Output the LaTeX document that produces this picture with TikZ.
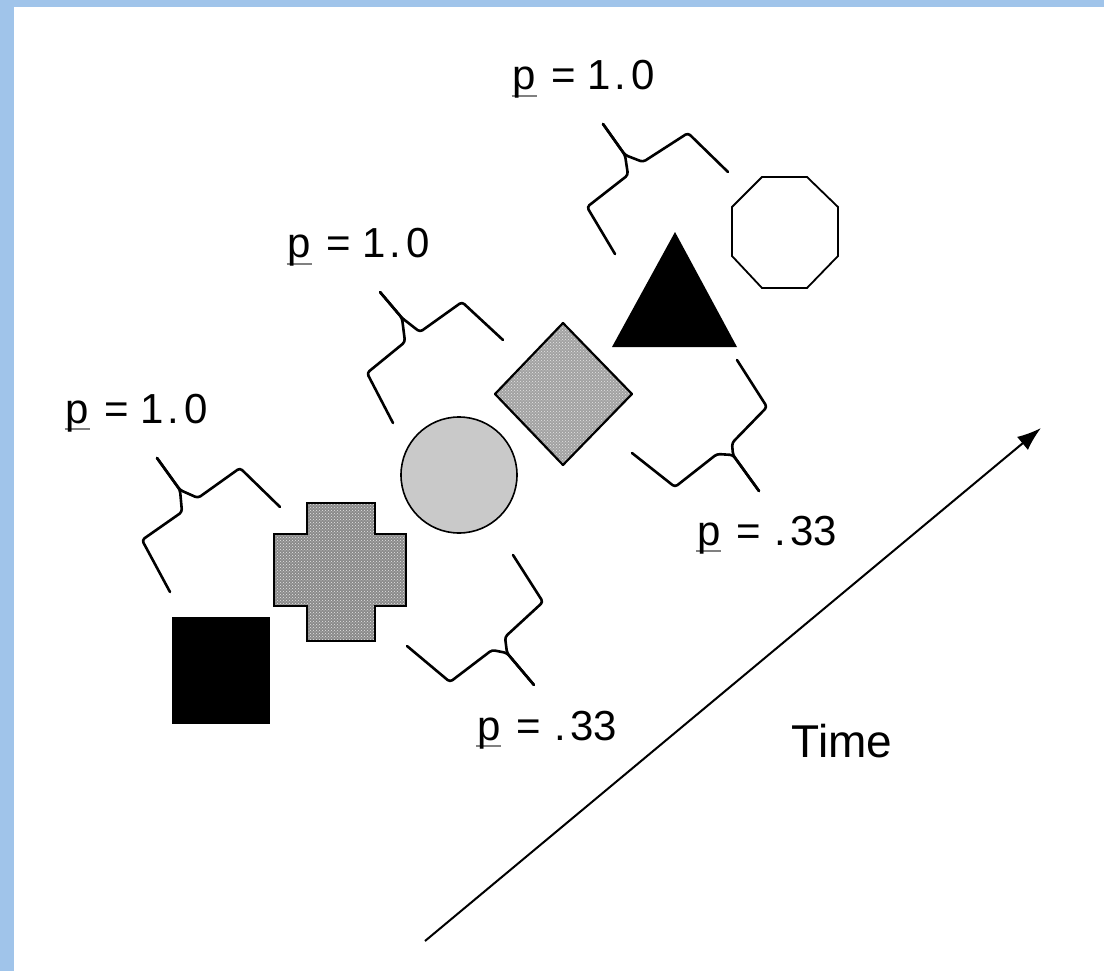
\documentclass[tikz,border=0pt]{standalone}
\usepackage{fontspec}
\setmainfont{Liberation Sans}
\usetikzlibrary{patterns,arrows.meta}
\definecolor{frameblue}{HTML}{A0C4EA}
\definecolor{crossgray}{HTML}{8A8A8A}
\definecolor{diagray}{HTML}{A2A2A2}
\definecolor{circgray}{HTML}{C9C9C9}
\definecolor{dotwhite}{HTML}{E6E6E6}
\newcommand{\pund}{\rlap{\kern-1pt\textcolor{gray}{\rule[-7pt]{25pt}{1.6pt}}}p}
\newcommand{\pone}{\pund\kern4pt{} = 1\kern3pt.\kern6pt0}
\newcommand{\pthird}{\pund\kern4.5pt{} = \kern1.5pt.\kern4pt33}
\begin{document}
\begin{tikzpicture}[x=1pt,y=-1pt,
  bracepath/.style={draw=black,line width=2.6pt,rounded corners=3pt,line cap=round,line join=round},
  lbl/.style={font=\fontsize{42}{50}\selectfont,inner sep=0pt,anchor=base},
  timelbl/.style={font=\fontsize{46}{54}\selectfont,inner sep=0pt,anchor=base},
  dotted fill/.style={postaction={pattern=crosshatch dots,pattern color=dotwhite}}]
\useasboundingbox (0,0) rectangle (1104,971);
\fill[white] (0,0) rectangle (1104,971);
\fill[frameblue] (0,0) rectangle (14,971);
\fill[frameblue] (0,0) rectangle (1104,7);

% shapes
\fill[black] (172,617) rectangle (270,724);
\path[fill=crossgray,dotted fill] (307,503) -- (375,503) -- (375,534) -- (406,534) -- (406,606) -- (375,606) -- (375,641) -- (307,641) -- (307,606) -- (274,606) -- (274,534) -- (307,534) -- cycle;
\draw[line width=1.6pt] (307,503) -- (375,503) -- (375,534) -- (406,534) -- (406,606) -- (375,606) -- (375,641) -- (307,641) -- (307,606) -- (274,606) -- (274,534) -- (307,534) -- cycle;
\draw[fill=circgray,line width=1.6pt] (459,475) circle[radius=58pt];
\path[fill=diagray,dotted fill] (563,323) -- (632,394) -- (563,465) -- (495,394) -- cycle;
\draw[line width=2.2pt,line join=round] (563,323) -- (632,394) -- (563,465) -- (495,394) -- cycle;
\fill[black] (675,232) -- (737,347) -- (612,347) -- cycle;
\draw[line width=1.8pt] (762,177) -- (807,177) -- (838,207) -- (838,256) -- (807,288) -- (762,288) -- (732,256) -- (732,207) -- cycle;

% braces
\draw[bracepath] (170,592) -- (142,540) -- (182,512) -- (180,490) -- (157,458);
\draw[bracepath] (280,507) -- (240,468) -- (198,498) -- (180,490) -- (157,458);
\draw[bracepath] (393,423) -- (367,373) -- (405,342) -- (402,318) -- (380,292);
\draw[bracepath] (503,340) -- (462,302) -- (420,332) -- (402,318) -- (380,292);
\draw[bracepath] (615,254) -- (587,207) -- (628,175) -- (625,155) -- (603,124);
\draw[bracepath] (728,172) -- (688,133) -- (643,162) -- (625,155) -- (603,124);
\draw[bracepath] (513,555) -- (543,602) -- (505,637) -- (507,653) -- (534,685);
\draw[bracepath] (407,646) -- (450,682) -- (492,650) -- (507,653) -- (534,685);
\draw[bracepath] (737,360) -- (767,407) -- (732,443) -- (733,455) -- (759,491);
\draw[bracepath] (632,453) -- (675,487) -- (717,454) -- (733,455) -- (759,491);

% labels
\node[lbl] (ptop) at (584,90) {\pone};
\node[lbl] (pmid) at (359,258) {\pone};
\node[lbl] (pleft) at (137,423) {\pone};
\node[lbl] (pright) at (767,545) {\pthird};
\node[lbl] (plow) at (547,740) {\pthird};
\node[timelbl] (time) at (842,757) {Time};

% time arrow
\coordinate (tstart) at (425,941);
\coordinate (tend) at (1041,428);
\draw[line width=2pt,-{Latex[length=24pt,width=17pt]}] (tstart) -- (tend);
\end{tikzpicture}
\end{document}
